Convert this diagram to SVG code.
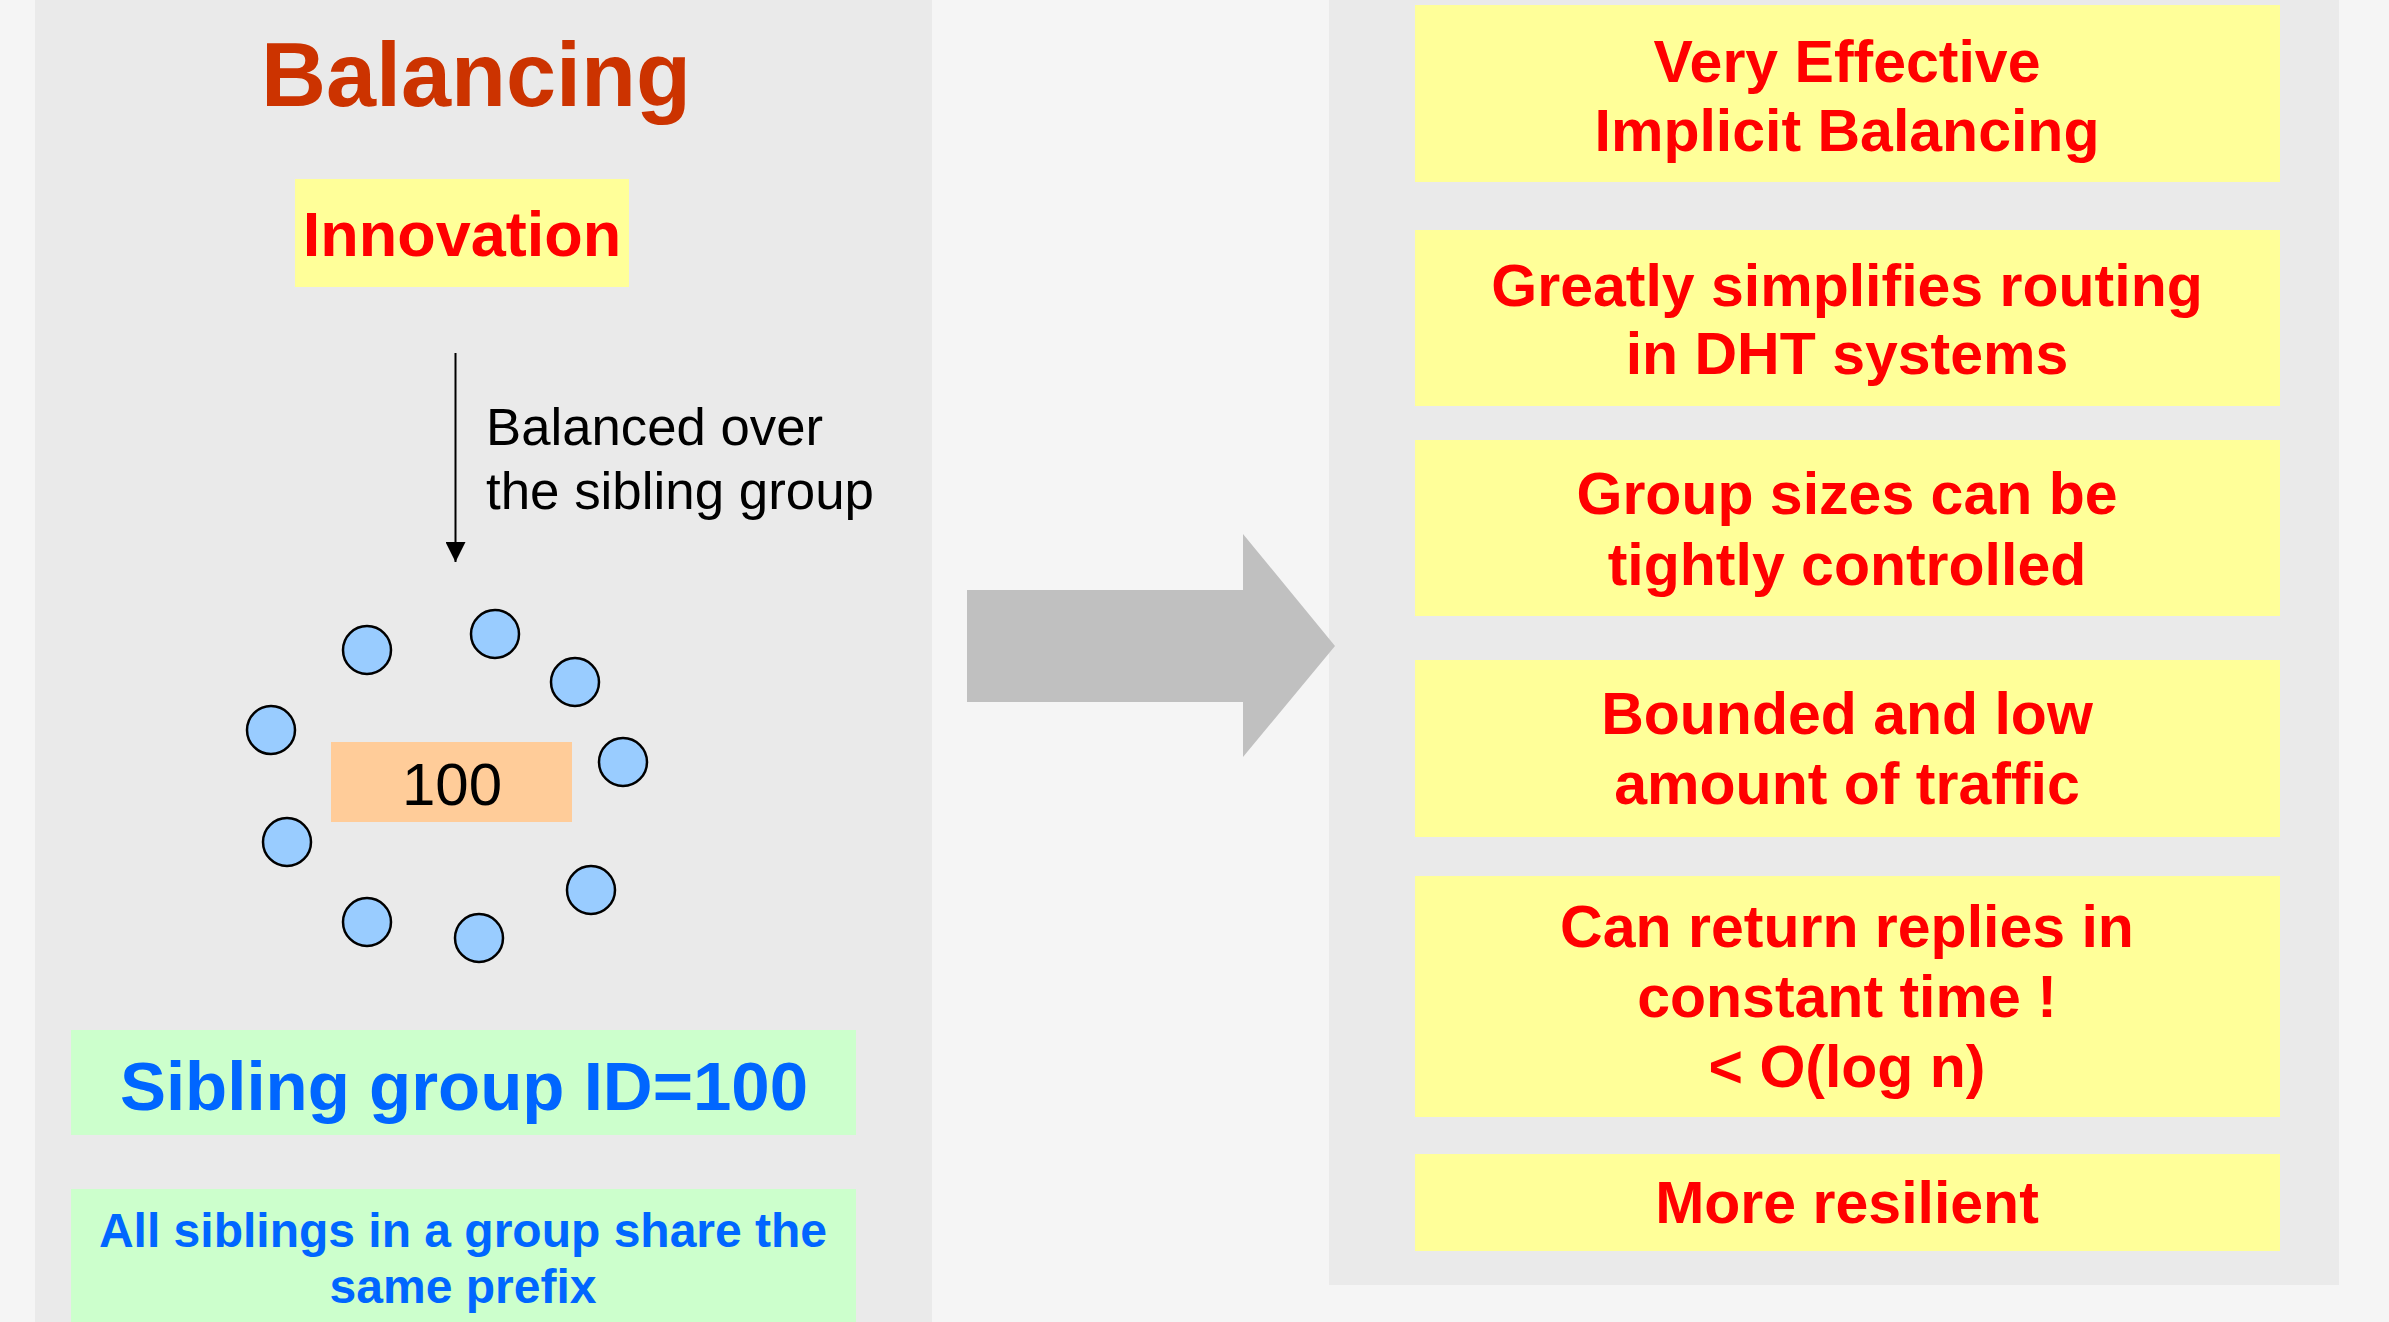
<svg xmlns="http://www.w3.org/2000/svg" width="2389" height="1322" viewBox="0 0 2389 1322">
<style>
text{font-family:"Liberation Sans",Arial,sans-serif;text-anchor:middle}
.red{fill:#FF0000;font-weight:bold;font-size:59px}
.node{fill:#99CCFF;stroke:#000;stroke-width:2.5}
.yb{fill:#FFFF99}
.gb{fill:#CCFFCC}
.blue{fill:#0066FF;font-weight:bold}
</style>
<defs>
<marker id="ah" markerWidth="20" markerHeight="20" refX="20" refY="10" orient="auto" markerUnits="userSpaceOnUse" viewBox="0 0 20 20">
<path d="M0,0 L20,10 L0,20 Z" fill="#000"/>
</marker>
</defs>
<rect x="0" y="0" width="2389" height="1322" fill="#F5F5F5"/>
<rect x="35" y="0" width="897" height="1322" fill="#EAEAEA"/>
<rect x="1329" y="0" width="1010" height="1285" fill="#EAEAEA"/>

<g id="title"><text x="476" y="106" font-size="90" font-weight="bold" fill="#CC3300">Balancing</text></g>
<g id="innovation">
<rect x="295" y="179" width="334" height="108" class="yb"/>
<text x="462" y="256" font-size="63" font-weight="bold" fill="#FF0000">Innovation</text>
</g>
<g id="label-balanced">
<text x="486" y="445" font-size="51" fill="#000" style="text-anchor:start" textLength="337" lengthAdjust="spacingAndGlyphs">Balanced over</text>
<text x="486" y="509" font-size="51" fill="#000" style="text-anchor:start" textLength="388" lengthAdjust="spacingAndGlyphs">the sibling group</text>
</g>
<g id="siblings">
<circle class="node" cx="367" cy="650" r="24"/>
<circle class="node" cx="495" cy="634" r="24"/>
<circle class="node" cx="575" cy="682" r="24"/>
<circle class="node" cx="271" cy="730" r="24"/>
<circle class="node" cx="623" cy="762" r="24"/>
<circle class="node" cx="287" cy="842" r="24"/>
<circle class="node" cx="591" cy="890" r="24"/>
<circle class="node" cx="367" cy="922" r="24"/>
<circle class="node" cx="479" cy="938" r="24"/>
</g>
<g id="group-100">
<rect x="331" y="742" width="241" height="80" fill="#FFCC99"/>
<text x="452" y="805" font-size="60" fill="#000">100</text>
</g>
<g id="sibling-id">
<rect x="71" y="1030" width="785" height="105" class="gb"/>
<text x="464" y="1110" font-size="69" class="blue">Sibling group ID=100</text>
</g>
<g id="prefix">
<rect x="71" y="1189" width="785" height="133" class="gb"/>
<text x="463" y="1247" font-size="48" class="blue">All siblings in a group share the</text>
<text x="463" y="1303" font-size="48" class="blue">same prefix</text>
</g>

<g id="b1"><rect x="1415" y="5" width="865" height="177" class="yb"/>
<text x="1847" y="82" class="red">Very Effective</text>
<text x="1847" y="151" class="red">Implicit Balancing</text></g>
<g id="b2"><rect x="1415" y="230" width="865" height="176" class="yb"/>
<text x="1847" y="306" class="red">Greatly simplifies routing</text>
<text x="1847" y="374" class="red">in DHT systems</text></g>
<g id="b3"><rect x="1415" y="440" width="865" height="176" class="yb"/>
<text x="1847" y="514" class="red">Group sizes can be</text>
<text x="1847" y="585" class="red">tightly controlled</text></g>
<g id="b4"><rect x="1415" y="660" width="865" height="177" class="yb"/>
<text x="1847" y="734" class="red">Bounded and low</text>
<text x="1847" y="804" class="red">amount of traffic</text></g>
<g id="b5"><rect x="1415" y="876" width="865" height="241" class="yb"/>
<text x="1847" y="947" class="red">Can return replies in</text>
<text x="1847" y="1017" class="red">constant time !</text>
<text x="1847" y="1087" class="red">&lt; O(log n)</text></g>
<g id="b6"><rect x="1415" y="1154" width="865" height="97" class="yb"/>
<text x="1847" y="1223" class="red">More resilient</text></g>

<g id="connectors">
<line x1="455.5" y1="353" x2="455.5" y2="562" stroke="#000" stroke-width="2" marker-end="url(#ah)"/>
<polygon points="967,590 1243,590 1243,534 1335,646 1243,757 1243,702 967,702" fill="#C0C0C0"/>
</g>
</svg>
